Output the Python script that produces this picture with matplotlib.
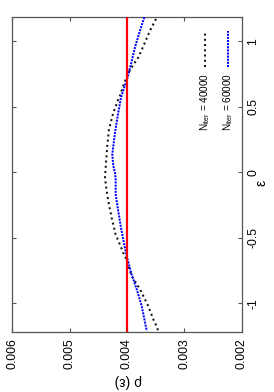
import matplotlib
matplotlib.use("Agg")
import matplotlib.pyplot as plt
from matplotlib.lines import Line2D

plt.rcParams['font.family'] = ['Liberation Sans', 'DejaVu Sans']
plt.rcParams['mathtext.fontset'] = 'custom'
plt.rcParams['mathtext.rm'] = 'Liberation Sans'
plt.rcParams['mathtext.it'] = 'Liberation Sans:italic'

# ---- data ----
eps_40000 = [1.170, 1.081, 0.979, 0.877, 0.802, 0.750, 0.661, 0.585, 0.557, 0.455,
             0.328, 0.201, 0.073, -0.041, -0.145, -0.247, -0.349, -0.476, -0.553,
             -0.616, -0.652, -0.792, -0.893, -1.021, -1.122, -1.186, -1.219]
rho_40000 = [0.003496, 0.003600, 0.003699, 0.003803, 0.003918, 0.003988, 0.004064,
             0.004122, 0.004151, 0.004238, 0.004313, 0.004343, 0.004365, 0.004383,
             0.004353, 0.004313, 0.004266, 0.004197, 0.004122, 0.004064, 0.004023,
             0.003918, 0.003774, 0.003630, 0.003543, 0.003473, 0.003456]

eps_60000 = [1.183, 1.081, 0.954, 0.827, 0.725, 0.649, 0.571, 0.430, 0.302, 0.201,
             0.137, 0.048, -0.003, -0.053, -0.171, -0.298, -0.425, -0.553, -0.639,
             -0.766, -0.893, -1.021, -1.211]
rho_60000 = [0.003699, 0.003774, 0.003861, 0.003930, 0.003988, 0.004047, 0.004104,
             0.004162, 0.004209, 0.004238, 0.004256, 0.004238, 0.004209, 0.004197,
             0.004197, 0.004151, 0.004104, 0.004047, 0.004005, 0.003930, 0.003831,
             0.003744, 0.003657]

rho_ref = 0.004

rho_ticks = [0.006, 0.005, 0.004, 0.003, 0.002]
rho_ticklabels = ['0.006', '0.005', '0.004', '0.003', '0.002']
eps_ticks = [-1, -0.5, 0, 0.5, 1]
eps_ticklabels = ['-1', '-0.5', '0', '0.5', '1']
legend_labels = [r'N$_{\mathrm{iter}}$ = 40000', r'N$_{\mathrm{iter}}$ = 60000']

# ---- figure ----
W, H = 274, 392
fig = plt.figure(figsize=(W / 100, H / 100), dpi=100)
ax = fig.add_axes([12 / W, 1 - 332 / H, 230 / W, 315 / H])

frame_col = '#555555'
for s in ax.spines.values():
    s.set_color(frame_col)
    s.set_linewidth(0.9)

ax.plot(rho_40000, eps_40000, color='#111111', lw=1.45,
        linestyle=(0, (1, 1.6)), dash_capstyle='butt', zorder=3)
ax.plot(rho_60000, eps_60000, color='#0000ff', lw=1.45,
        linestyle=(0, (1, 0.55)), dash_capstyle='butt', zorder=3)
ax.axvline(rho_ref, color='#ff0000', lw=1.6, zorder=4)

ax.set_xlim(0.006, 0.002)
ax.set_ylim(-1.219, 1.185)

ax.set_xticks(rho_ticks)
ax.set_xticklabels(rho_ticklabels, rotation=90, fontsize=8.8)
ax.set_yticks(eps_ticks)
ax.set_yticklabels(eps_ticklabels, rotation=90, fontsize=8.8, va='center')
ax.tick_params(direction='in', length=3, width=0.8, color=frame_col,
               top=True, bottom=True, left=True, right=True,
               labelleft=False, labelright=True, labelbottom=True)
ax.tick_params(axis='x', pad=4.3)
ax.tick_params(axis='y', pad=4.0)

# legend (rotated, drawn manually)
leg_x = [0.839, 0.939]
styles = [dict(color='#111111', lw=1.45, linestyle=(0, (1, 1.6))),
          dict(color='#0000ff', lw=1.45, linestyle=(0, (1, 0.55)))]
for xx, lab, st in zip(leg_x, legend_labels, styles):
    ax.text(xx, 0.822, lab, rotation=90, ha='center', va='top',
            fontsize=7.2, transform=ax.transAxes)
    ax.add_line(Line2D([xx, xx], [0.841, 0.956], transform=ax.transAxes,
                       dash_capstyle='butt', **st))

fig.text(128 / W, 1 - 381 / H, 'ρ (ε)', rotation=180, ha='center', va='center',
         fontsize=10)
fig.text(261 / W, 1 - 183 / H, 'ε', rotation=90, ha='center', va='center',
         fontsize=10)

fig.savefig('out.png', dpi=100)
